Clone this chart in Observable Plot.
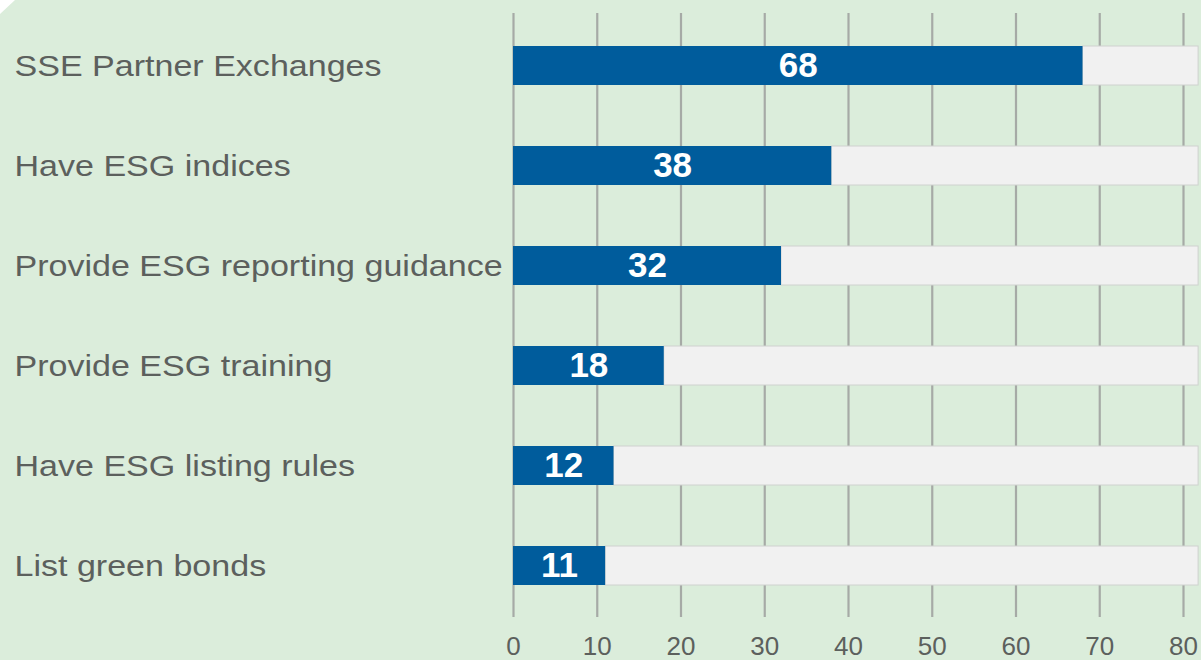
<!DOCTYPE html>
<html>
<head>
<meta charset="utf-8">
<script src="https://cdn.jsdelivr.net/npm/d3@7"></script>
<script src="https://cdn.jsdelivr.net/npm/@observablehq/plot@0.6"></script>
<style>
  html, body { margin: 0; padding: 0; background: #ffffff; }
  #chart svg { display: block; clip-path: polygon(15px 0, 100% 0, 100% 100%, 0 100%, 0 14px); }
</style>
</head>
<body>
<div id="chart"></div>
<script>
const categories = [
  "SSE Partner Exchanges",
  "Have ESG indices",
  "Provide ESG reporting guidance",
  "Provide ESG training",
  "Have ESG listing rules",
  "List green bonds"
];
const values = [68, 38, 32, 18, 12, 11];
const xTicks = [0, 10, 20, 30, 40, 50, 60, 70, 80];
const trackEnd = 81.8;

const data = categories.map((c, i) => ({category: c, value: values[i]}));

const chart = Plot.plot({
  width: 1201,
  height: 660,
  marginLeft: 513,
  marginRight: 18,
  marginTop: 13,
  marginBottom: 43,
  style: {background: "#dbeddb", fontFamily: "'Liberation Sans', Arial, sans-serif", overflow: "visible"},
  x: {type: "linear", domain: [0, 80]},
  y: {domain: categories, paddingInner: 0.61, paddingOuter: 0.314, align: 0.5},
  marks: [
    Plot.ruleX(xTicks, {stroke: "#a6aaa6", strokeWidth: 2.2}),
    Plot.barX(data, {y: "category", x1: "value", x2: () => trackEnd, fill: "#f1f1f1", stroke: "#cfd2cf", strokeWidth: 1, clip: false}),
    Plot.barX(data, {y: "category", x1: () => 0, x2: "value", fill: "#005c9c"}),
    Plot.text(data, {y: "category", x: d => d.value / 2, text: d => String(d.value), fill: "#ffffff", fontSize: 35, fontWeight: "bold"}),
    Plot.text(data, {y: "category", x: () => 0, text: "category", textAnchor: "start", dx: -499, fill: "#5c605d", fontSize: 30}),
    Plot.axisX(xTicks, {tickSize: 0, tickPadding: 19, label: null, fontSize: 26, color: "#5c605d"}),
    Plot.axisY({ticks: [], label: null, tickSize: 0})
  ]
});
document.getElementById("chart").appendChild(chart);
// widen category labels horizontally (about their own start point) to match the reference's letterforms
chart.querySelectorAll("text").forEach(t => {
  if (!categories.includes(t.textContent)) return;
  t.setAttribute("transform", (t.getAttribute("transform") || "") + " scale(1.135,1)");
});
</script>
</body>
</html>
